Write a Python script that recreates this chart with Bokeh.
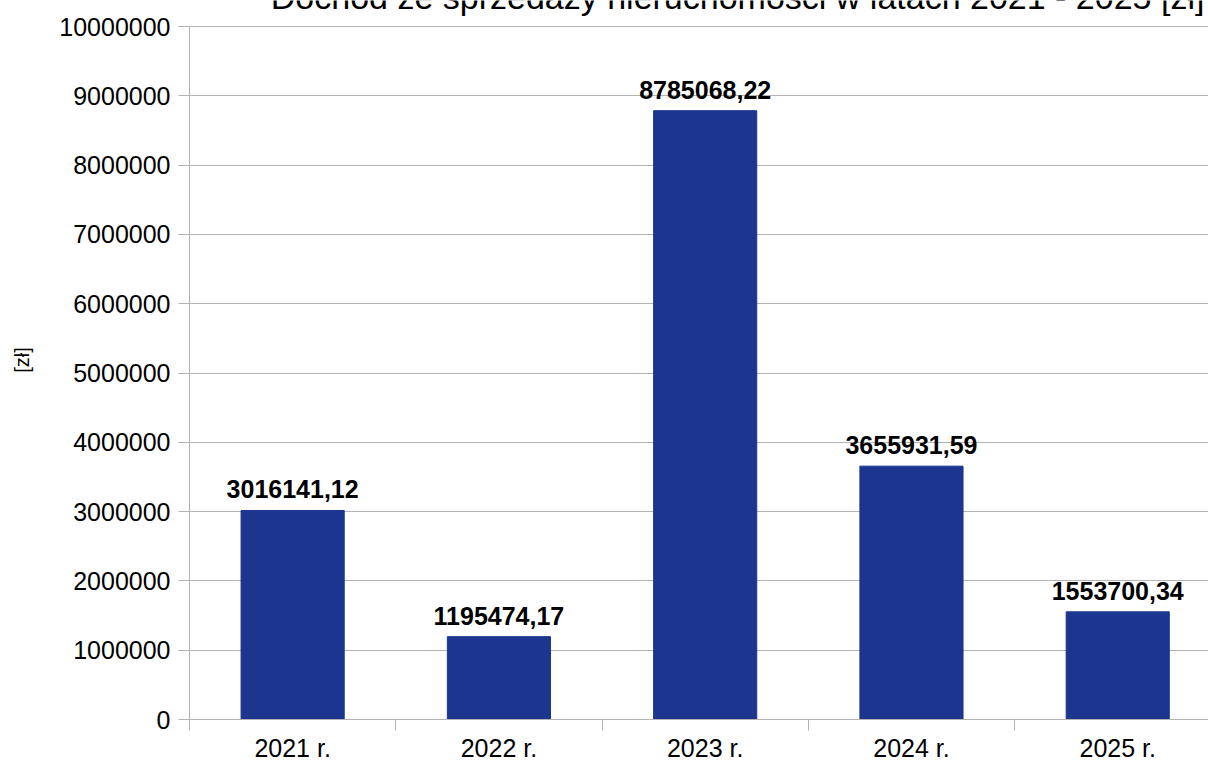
from bokeh.plotting import figure
from bokeh.models import (Range1d, FixedTicker, LinearAxis, Label, LabelSet,
                          ColumnDataSource, NumeralTickFormatter, Grid)
from bokeh.core.properties import value
from bokeh.embed import file_html
from bokeh.resources import INLINE

# ---- data ----
years = ["2021 r.", "2022 r.", "2023 r.", "2024 r.", "2025 r."]
values = [3016141.12, 1195474.17, 8785068.22, 3655931.59, 1553700.34]
y_ticks = [0, 1000000, 2000000, 3000000, 4000000, 5000000,
           6000000, 7000000, 8000000, 9000000, 10000000]
title_text = "Dochód ze sprzedaży nieruchomości w latach 2021 - 2025 [zł]"
y_label = "[zł]"

# ---- style ----
FONT = "Liberation Sans"
BAR = "#1c358f"
GRID = "#b3b3b3"
W, H = 1200, 764
BOTTOM = 45          # bottom border (x axis) in px
TOP_GAP = 26         # px between canvas top and the 10 000 000 line
TITLE_RISE = 30      # px from the 10 000 000 line up to the title anchor
Y_MAX = y_ticks[-1]
frame_h = H - BOTTOM
y_end = Y_MAX * frame_h / (frame_h - TOP_GAP)
px = Y_MAX / (frame_h - TOP_GAP)

centers = [i + 0.5 for i in range(len(years))]
bounds = list(range(len(years) + 1))
labels = [f"{v:.2f}".replace(".", ",") for v in values]

src = ColumnDataSource(dict(x=centers, v=values, lbl=labels))

p = figure(width=W, height=H,
           x_range=Range1d(0, 4.94), y_range=Range1d(0, y_end),
           x_axis_type=None, y_axis_type=None,
           output_backend="svg", toolbar_location=None,
           min_border_left=181, min_border_right=0,
           min_border_top=0, min_border_bottom=BOTTOM)
p.styles = {"position": "absolute", "top": "0px", "left": "8px"}
p.outline_line_color = None
p.background_fill_color = "white"
p.border_fill_color = "white"

yaxis = LinearAxis(ticker=FixedTicker(ticks=y_ticks, minor_ticks=[]),
                   formatter=NumeralTickFormatter(format="0"),
                   bounds=(0, Y_MAX),
                   axis_line_color=GRID, major_tick_line_color=GRID,
                   major_tick_out=11, major_tick_in=0,
                   minor_tick_out=0, minor_tick_in=0,
                   major_label_standoff=8,
                   major_label_text_font=FONT, major_label_text_font_size="25px",
                   major_label_text_color="black",
                   axis_label=y_label, axis_label_text_font=FONT,
                   axis_label_text_font_size="20px",
                   axis_label_text_font_style="normal",
                   axis_label_text_color="black",
                   axis_label_standoff=23)
p.add_layout(yaxis, "left")

xaxis = LinearAxis(ticker=FixedTicker(ticks=centers, minor_ticks=bounds),
                   major_label_overrides={c: y for c, y in zip(centers, years)},
                   axis_line_color=GRID, minor_tick_line_color=GRID,
                   major_tick_out=0, major_tick_in=0,
                   minor_tick_out=11, minor_tick_in=0,
                   major_label_standoff=3,
                   major_label_text_font=FONT, major_label_text_font_size="25px",
                   major_label_text_color="black")
p.add_layout(xaxis, "below")

p.add_layout(Grid(dimension=1, ticker=FixedTicker(ticks=y_ticks),
                  grid_line_color=GRID, grid_line_width=1))

p.vbar(x="x", top="v", width=0.5, bottom=0, source=src,
       fill_color=BAR, line_color=BAR)

p.add_layout(LabelSet(x="x", y="v", text="lbl", source=src,
                      text_align="center", text_baseline="alphabetic",
                      y_offset=12,
                      text_font=value(FONT), text_font_style="bold",
                      text_font_size="25px", text_color="black"))

p.add_layout(Label(x=2.657, y=Y_MAX + TITLE_RISE * px, text=title_text,
                   text_align="center", text_baseline="alphabetic",
                   text_font=FONT, text_font_size="34px", text_color="black"))

open("out.html", "w").write(file_html(p, INLINE))
